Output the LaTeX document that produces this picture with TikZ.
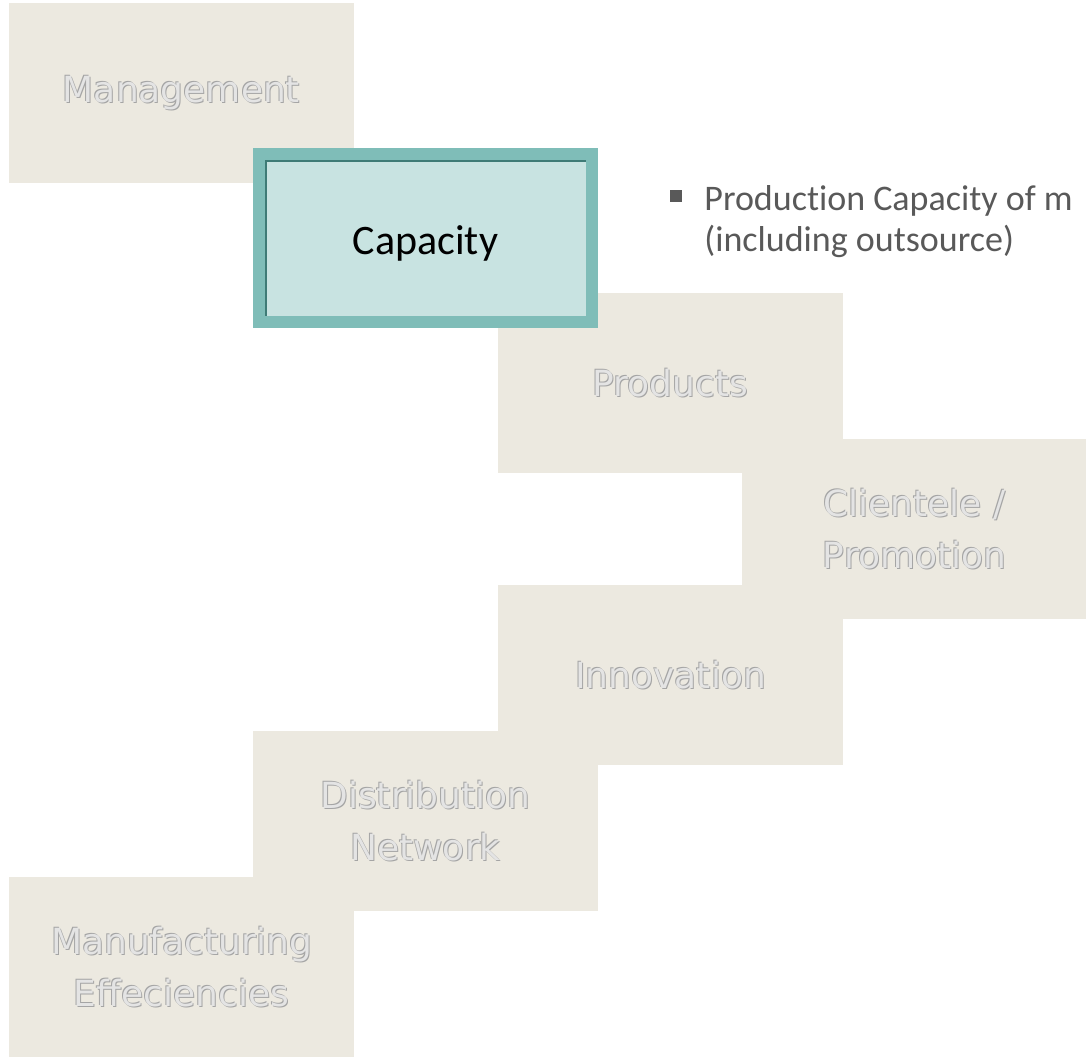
\documentclass[tikz,border=0pt]{standalone}
\usepackage{fontspec}
\setmainfont{Carlito}[Ligatures=NoCommon]
\newfontfamily\stepfont{DejaVu Sans}
\usepackage{tikz}

\definecolor{stepfill}{RGB}{236,233,224}
\definecolor{capfill}{RGB}{200,227,225}
\definecolor{capborder}{RGB}{127,189,184}
\definecolor{capshade}{RGB}{62,123,118}
\definecolor{notegray}{RGB}{89,89,89}
\definecolor{embdark}{RGB}{165,165,165}
\definecolor{emblight}{RGB}{228,228,228}

% embossed label text
\newcommand{\emb}[1]{%
  \rlap{\kern0.5pt\raisebox{-0.5pt}{\textcolor{embdark}{#1}}}%
  \rlap{\kern-0.5pt\raisebox{0.5pt}{\textcolor{embdark}{#1}}}%
  \textcolor{emblight}{#1}}

\begin{document}
\begin{tikzpicture}[
    x=0.5pt, y=0.5pt,
    stepbox/.style={
        fill=stepfill,
        minimum width=172.5pt,
        minimum height=90pt,
        inner sep=0pt,
        align=center,
        font=\stepfont\fontsize{18}{26}\selectfont
    },
    capbox/.style={
        draw=capborder,
        line width=6pt,
        fill=capfill,
        minimum width=166.5pt,
        minimum height=84pt,
        inner sep=0pt,
        outer sep=0pt,
        font=\fontsize{21}{25}\selectfont
    },
    note/.style={
        anchor=base west,
        align=left,
        inner sep=0pt,
        text=notegray,
        font=\fontsize{18}{20.5}\selectfont
    }
]
\useasboundingbox (0,0) rectangle (1086,1056);

% Steps
\node[stepbox] (mgmt) at (181.5,963) {\emb{Management}};
\node[stepbox] (prod) at (670.5,673) {\emb{Products}};
\node[stepbox] (client) at (914.5,527) {\emb{Clientele /}\\\emb{Promotion}};
\node[stepbox] (innov) at (670.5,381) {\emb{Innovation}};
\node[stepbox] (distrib) at (425.5,235) {\emb{Distribution}\\\emb{Network}};
\node[stepbox] (manuf) at (181.5,89) {\emb{Manufacturing}\\\emb{Effeciencies}};

% Highlighted step
\node[capbox] (cap) at (425.5,818) {\raisebox{-2.5pt}[\height][\depth]{Capacity}};
\draw[capshade, line width=1.2pt] ([shift={(3.6pt,3pt)}]cap.south west)
    -- ([shift={(3.6pt,-3.6pt)}]cap.north west)
    -- ([shift={(-3pt,-3.6pt)}]cap.north east);

% Note
\node[note] (capnote) at (704,804) {\llap{\raisebox{4.5pt}{\rule{6pt}{6pt}}\hspace{11pt}}Production Capacity of m\\(including outsource)};

\end{tikzpicture}
\end{document}
